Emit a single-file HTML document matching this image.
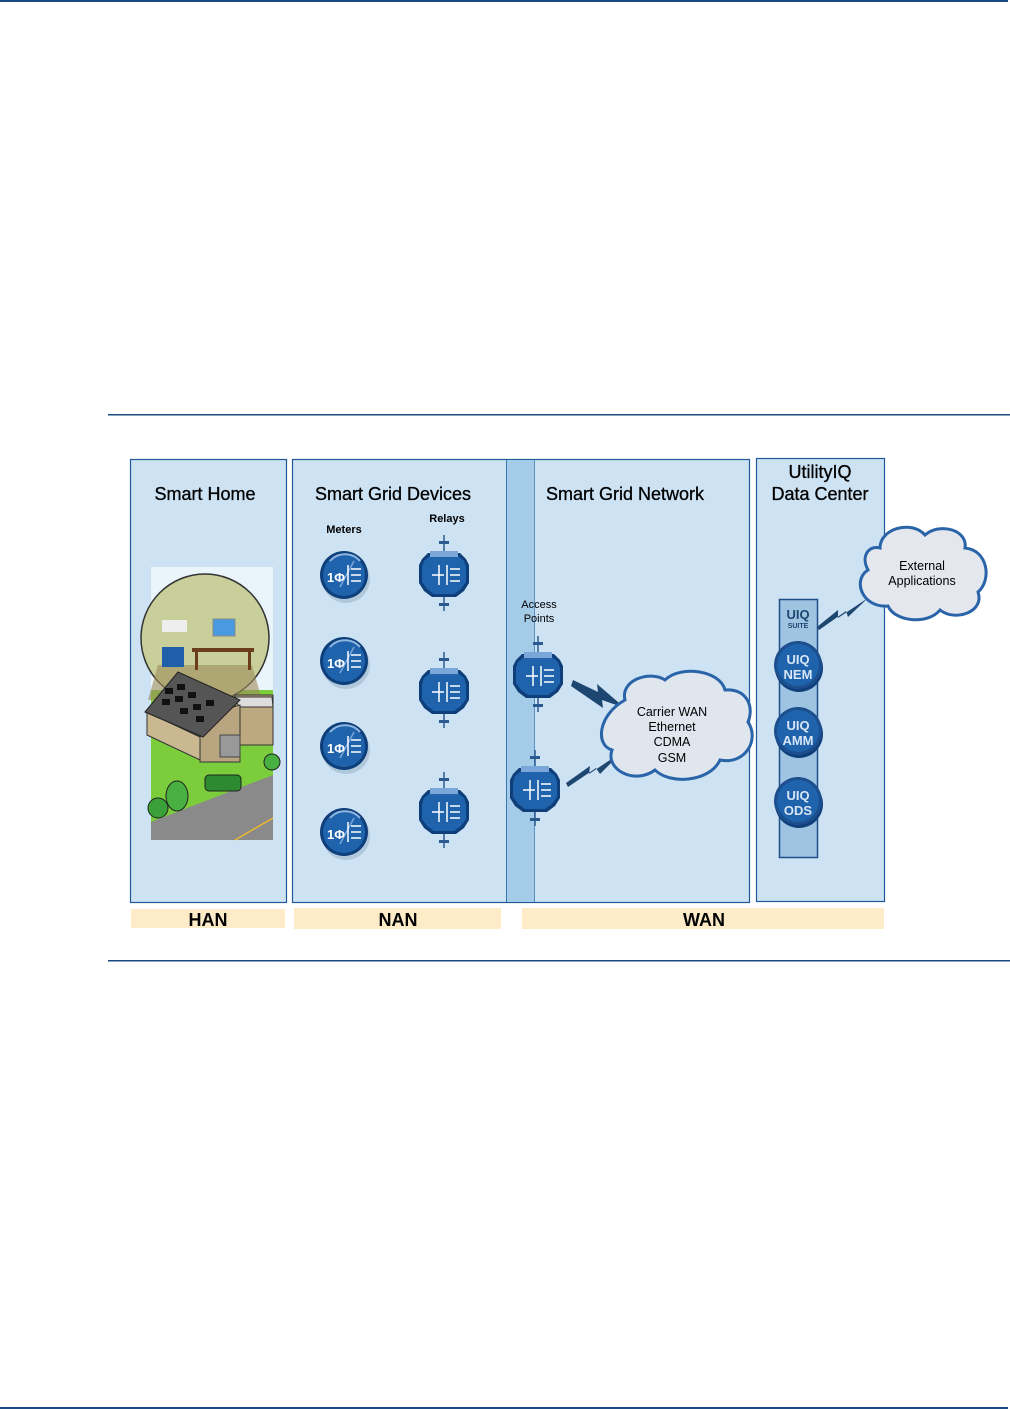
<!DOCTYPE html>
<html><head><meta charset="utf-8"><style>
html,body{margin:0;padding:0;background:#fff}
svg{display:block}
text{font-family:"Liberation Sans",sans-serif}
</style></head><body>
<svg width="1010" height="1409" viewBox="0 0 1010 1409" xmlns="http://www.w3.org/2000/svg">
<defs>
<g id="meter">
 <circle cx="2" cy="4" r="24" fill="#9fb8cc" opacity="0.6"/>
 <circle r="24" fill="#0f3f7a"/>
 <circle r="21" fill="#1f63ad"/>
 <path d="M-14,-14 A20,20 0 0 1 16,-14" stroke="#8fb6e0" stroke-width="2" fill="none"/>
 <line x1="-4" y1="12" x2="10" y2="-14" stroke="#7aa6d8" stroke-width="1.5"/>
 <text x="-8" y="7" font-size="13" font-weight="bold" fill="#fff" text-anchor="middle">1Φ</text>
 <line x1="4" y1="-10" x2="4" y2="10" stroke="#fff" stroke-width="1.5"/>
 <g stroke="#fff" stroke-width="1.5"><line x1="7" y1="-6" x2="17" y2="-6"/><line x1="7" y1="0" x2="17" y2="0"/><line x1="7" y1="6" x2="17" y2="6"/></g>
</g>
<g id="relay">
 <line x1="0" y1="-40" x2="0" y2="36" stroke="#2a5a90" stroke-width="1.5"/>
 <rect x="-5" y="-34" width="10" height="3" fill="#2a5a90"/>
 <rect x="-5" y="28" width="10" height="3" fill="#2a5a90"/>
 <path d="M-22,-16 L-16,-22 L16,-22 L22,-16 L25,-10 L25,8 L20,16 L12,22 L-12,22 L-20,16 L-25,8 L-25,-10 Z" fill="#0f3f7a"/>
 <path d="M-20,-14 L-14,-19 L14,-19 L20,-14 L22,-8 L22,7 L17,14 L10,19 L-10,19 L-17,14 L-22,7 L-22,-8 Z" fill="#1f63ad"/>
 <rect x="-14" y="-24" width="28" height="6" fill="#7aa6d8"/>
 <g stroke="#fff" stroke-width="1.5"><line x1="-12" y1="0" x2="0" y2="0"/><line x1="-5" y1="-10" x2="-5" y2="10"/><line x1="3" y1="-10" x2="3" y2="10"/><line x1="6" y1="-6" x2="16" y2="-6"/><line x1="6" y1="0" x2="16" y2="0"/><line x1="6" y1="6" x2="16" y2="6"/></g>
</g>
<g id="uiq">
 <circle cx="1" cy="3" r="24" fill="#0f3f7a"/>
 <circle r="24" fill="#1d4f8e"/>
 <circle r="21" fill="#1f63ad"/>
</g>
</defs>

<rect x="0" y="0" width="1008" height="2" fill="#1a4a84"/>
<rect x="0" y="1407" width="1008" height="2" fill="#1a4a84"/>
<rect x="108" y="414" width="902" height="1.5" fill="#1a4a84"/>
<rect x="108" y="960" width="902" height="1.5" fill="#1a4a84"/>

<rect x="130.5" y="459.5" width="156" height="443" fill="#cde2f3" stroke="#1e5a9a" stroke-width="1.2"/>
<rect x="292.5" y="459.5" width="457" height="443" fill="#cde2f3" stroke="#1e5a9a" stroke-width="1.2"/>
<rect x="507" y="460" width="27" height="442" fill="#a4cbe8"/>
<line x1="506.5" y1="460" x2="506.5" y2="902" stroke="#3a78b4" stroke-width="1"/>
<line x1="534.5" y1="460" x2="534.5" y2="902" stroke="#5a90c4" stroke-width="1"/>
<rect x="756.5" y="458.5" width="128" height="443" fill="#cde2f3" stroke="#1e5a9a" stroke-width="1.2"/>

<rect x="131" y="909" width="154" height="19" fill="#feecc9"/>
<rect x="294" y="908" width="207" height="21" fill="#feecc9"/>
<rect x="522" y="908" width="362" height="21" fill="#feecc9"/>
<text x="208" y="926" font-size="18" font-weight="bold" text-anchor="middle">HAN</text>
<text x="398" y="926" font-size="18" font-weight="bold" text-anchor="middle">NAN</text>
<text x="704" y="926" font-size="18" font-weight="bold" text-anchor="middle">WAN</text>

<g font-size="18" text-anchor="middle" fill="#000" stroke="#000" stroke-width="0.3">
<text x="205" y="500">Smart Home</text>
<text x="393" y="500">Smart Grid Devices</text>
<text x="625" y="500">Smart Grid Network</text>
<text x="820" y="478">UtilityIQ</text>
<text x="820" y="500">Data Center</text>
</g>
<text x="344" y="533" font-size="11" font-weight="bold" text-anchor="middle">Meters</text>
<text x="447" y="522" font-size="11" font-weight="bold" text-anchor="middle">Relays</text>
<text x="539" y="608" font-size="11" text-anchor="middle">Access</text>
<text x="539" y="622" font-size="11" text-anchor="middle">Points</text>

<!-- house image -->
<rect x="151" y="567" width="122" height="273" fill="#eaf4fb"/>
<rect x="151" y="690" width="122" height="150" fill="#7ccd3c"/>
<polygon points="151,840 151,822 273,775 273,840" fill="#8a8a8a"/>
<line x1="235" y1="840" x2="273" y2="818" stroke="#e8b830" stroke-width="1.5"/>
<circle cx="205" cy="638" r="64" fill="#c9cf9a" stroke="#333" stroke-width="1.5"/>
<polygon points="158,665 252,665 262,700 148,700" fill="#9c8a5a" opacity="0.6"/>
<rect x="192" y="648" width="62" height="4" fill="#6b3d1a"/>
<rect x="195" y="652" width="3" height="18" fill="#6b3d1a"/>
<rect x="248" y="652" width="3" height="18" fill="#6b3d1a"/>
<rect x="213" y="619" width="22" height="17" fill="#4a9ae0" stroke="#888"/>
<rect x="162" y="620" width="25" height="12" fill="#eee"/>
<rect x="162" y="647" width="22" height="20" fill="#1f5ea8"/>
<rect x="235" y="695" width="38" height="50" fill="#bda980" stroke="#333"/>
<polygon points="232,697 272,697 273,707 240,707" fill="#ddd" stroke="#333"/>
<polygon points="147,712 200,737 200,760 147,735" fill="#c9b890" stroke="#333"/>
<polygon points="200,737 215,712 240,705 240,762 200,762" fill="#b9a680" stroke="#333"/>
<polygon points="145,712 178,672 240,700 203,737" fill="#555" stroke="#222"/>
<g fill="#111"><rect x="165" y="688" width="8" height="6"/><rect x="177" y="684" width="8" height="6"/><rect x="162" y="699" width="8" height="6"/><rect x="175" y="696" width="8" height="6"/><rect x="188" y="692" width="8" height="6"/><rect x="180" y="708" width="8" height="6"/><rect x="193" y="704" width="8" height="6"/><rect x="206" y="700" width="8" height="6"/><rect x="196" y="716" width="8" height="6"/></g>
<rect x="220" y="735" width="20" height="22" fill="#999" stroke="#444"/>
<circle cx="158" cy="808" r="10" fill="#3aa038" stroke="#222"/>
<ellipse cx="177" cy="796" rx="11" ry="15" fill="#48b040" stroke="#222"/>
<circle cx="272" cy="762" r="8" fill="#48b040" stroke="#222"/>
<rect x="205" y="775" width="36" height="16" rx="4" fill="#2e8a30" stroke="#222"/>

<use href="#meter" x="344" y="575"/>
<use href="#meter" x="344" y="661"/>
<use href="#meter" x="344" y="746"/>
<use href="#meter" x="344" y="832"/>
<use href="#relay" x="444" y="575"/>
<use href="#relay" x="444" y="692"/>
<use href="#relay" x="444" y="812"/>
<use href="#relay" x="538" y="676"/>
<use href="#relay" x="535" y="790"/>

<!-- lightning -->
<polygon points="573,680 598,692 597,684 625,708 602,700 603,708 571,686" fill="#1d4670"/>
<polygon points="566,783 590,766 589,774 622,752 600,774 596,768 568,787" fill="#1d4670"/>
<polygon points="817,627 838,610 838,618 868,598 848,617 846,611 819,630" fill="#1d4670"/>

<g fill="#dfe6ee" stroke="#2a64a8" stroke-width="3">
<path d="M625,700 C620,680 650,670 665,680 C680,665 720,670 725,690 C745,688 755,705 748,722 C760,740 745,765 720,760 C710,782 670,785 655,770 C635,785 605,770 612,750 C595,745 598,715 625,700 Z"/>
</g>
<g font-size="12.5" text-anchor="middle">
<text x="672" y="716">Carrier WAN</text>
<text x="672" y="731">Ethernet</text>
<text x="672" y="746">CDMA</text>
<text x="672" y="762">GSM</text>
</g>

<path d="M880,548 C880,528 912,520 925,535 C940,522 968,530 965,548 C988,550 992,580 978,592 C985,612 955,622 940,610 C928,625 895,622 888,606 C862,608 852,580 868,570 C860,555 870,545 880,548 Z" fill="#e4e8ee" stroke="#2a64a8" stroke-width="3"/>
<text x="922" y="570" font-size="12.5" text-anchor="middle">External</text>
<text x="922" y="585" font-size="12.5" text-anchor="middle">Applications</text>

<rect x="779.5" y="599.5" width="38" height="258" fill="#9fc4e2" stroke="#1e4f88" stroke-width="1.5"/>
<text x="798" y="619" font-size="13" font-weight="bold" fill="#1d4670" text-anchor="middle">UIQ</text>
<text x="798" y="628" font-size="7" font-weight="bold" fill="#1d4670" text-anchor="middle">SUITE</text>
<use href="#uiq" x="798" y="665"/>
<use href="#uiq" x="798" y="731"/>
<use href="#uiq" x="798" y="801"/>
<g font-size="13" font-weight="bold" fill="#d8e6f5" text-anchor="middle">
<text x="798" y="664">UIQ</text><text x="798" y="679">NEM</text>
<text x="798" y="730">UIQ</text><text x="798" y="745">AMM</text>
<text x="798" y="800">UIQ</text><text x="798" y="815">ODS</text>
</g>
</svg>
</body></html>
